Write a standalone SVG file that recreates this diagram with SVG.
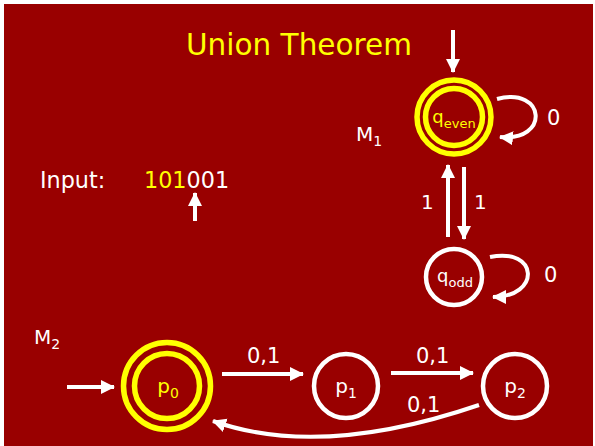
<svg xmlns="http://www.w3.org/2000/svg" width="595" height="446" viewBox="0 0 595 446">
<style>
text{font-family:"DejaVu Sans","Liberation Sans",sans-serif;}
.w{fill:#ffffff}
.y{fill:#ffff00}
.st{fill:none;stroke:#ffffff;stroke-width:4.5}
.acc{fill:none;stroke:#ffff00;stroke-width:5.5}
.e{fill:none;stroke:#ffffff;stroke-width:4}
</style>
<defs>
<marker id="ah" markerUnits="userSpaceOnUse" markerWidth="16" markerHeight="16" refX="13" refY="8" orient="auto" viewBox="0 0 16 16">
<path d="M0,1 L14,8 L0,15 Z" fill="#ffffff"/>
</marker>
</defs>
<rect x="4" y="4" width="589" height="442" fill="#990000"/>
<text class="y" x="186" y="55" font-size="29.5">Union Theorem</text>
<text class="w" x="356" y="141" font-size="20">M<tspan font-size="14" dy="5">1</tspan></text>
<text class="w" x="34" y="344" font-size="20">M<tspan font-size="14" dy="5">2</tspan></text>
<text x="40" y="188" font-size="22.3" class="w">Input:</text>
<text x="144" y="188" font-size="22.3"><tspan class="y">101</tspan><tspan class="w">001</tspan></text>
<g id="edges">
<line class="e" x1="453" y1="30" x2="453" y2="72" marker-end="url(#ah)"/>
<path class="e" d="M497,99 C546,86 550,142 500,137" marker-end="url(#ah)"/>
<line class="e" x1="448" y1="237" x2="448" y2="165" marker-end="url(#ah)"/>
<line class="e" x1="464" y1="167" x2="464" y2="239" marker-end="url(#ah)"/>
<path class="e" d="M490,257 C539,247 541,297 493,297" marker-end="url(#ah)"/>
<line class="e" x1="195" y1="221" x2="195" y2="193" marker-end="url(#ah)"/>
<line class="e" x1="67" y1="387" x2="114" y2="387" marker-end="url(#ah)"/>
<line class="e" x1="222" y1="374" x2="303" y2="374" marker-end="url(#ah)"/>
<line class="e" x1="391" y1="373" x2="473" y2="373" marker-end="url(#ah)"/>
<path class="e" d="M479,405 C400,432 300,452 213,421" marker-end="url(#ah)"/>
<text class="w" x="547" y="125" font-size="21">0</text>
<text class="w" x="544" y="282" font-size="21">0</text>
<text class="w" x="421" y="209" font-size="20">1</text>
<text class="w" x="474" y="209" font-size="20">1</text>
<text class="w" x="247" y="363" font-size="21">0,1</text>
<text class="w" x="416" y="363" font-size="21">0,1</text>
<text class="w" x="407" y="412" font-size="21">0,1</text>
</g>
<g id="q_even">
<circle class="acc" cx="454" cy="117" r="37"/>
<circle class="acc" cx="454" cy="117" r="28.5"/>
<text class="y" x="454" y="123" font-size="18" text-anchor="middle">q<tspan font-size="13" dy="5">even</tspan></text>
</g>
<g id="q_odd">
<circle class="st" cx="454" cy="277" r="28"/>
<text class="w" x="455" y="282" font-size="18" text-anchor="middle">q<tspan font-size="13" dy="5">odd</tspan></text>
</g>
<g id="p0">
<circle class="acc" cx="167" cy="386" r="43.5"/>
<circle class="acc" cx="167" cy="386" r="32.5"/>
<text class="y" x="168" y="393" font-size="20" text-anchor="middle">p<tspan font-size="14" dy="5">0</tspan></text>
</g>
<g id="p1">
<circle class="st" cx="346" cy="386" r="32"/>
<text class="w" x="346" y="393" font-size="20" text-anchor="middle">p<tspan font-size="14" dy="5">1</tspan></text>
</g>
<g id="p2">
<circle class="st" cx="515" cy="386" r="32"/>
<text class="w" x="515" y="393" font-size="20" text-anchor="middle">p<tspan font-size="14" dy="5">2</tspan></text>
</g>
</svg>
